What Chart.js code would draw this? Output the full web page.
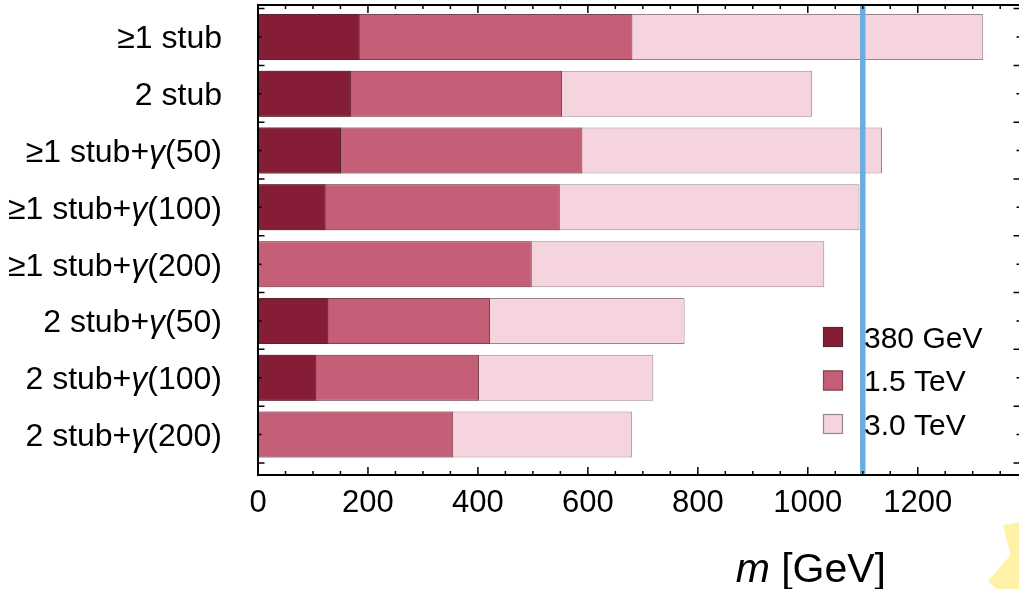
<!DOCTYPE html>
<html>
<head>
<meta charset="utf-8">
<script src="https://cdn.jsdelivr.net/npm/chart.js@4.4.1/dist/chart.umd.min.js"></script>
<style>
  html, body { margin: 0; padding: 0; background: #fff; overflow: hidden; }
  #wrap { width: 1030px; height: 589px; }
</style>
</head>
<body>
<div id="wrap"><canvas id="c" width="1030" height="589"></canvas></div>
<script>
// Selection channels (top to bottom)
const categories = [
  '≥1 stub',
  '2 stub',
  '≥1 stub+γ(50)',
  '≥1 stub+γ(100)',
  '≥1 stub+γ(200)',
  '2 stub+γ(50)',
  '2 stub+γ(100)',
  '2 stub+γ(200)'
];

// Mass reach [GeV] per collider energy stage
const reach380GeV = [185, 169, 151, 123, null, 128, 106, null];
const reach1500GeV = [681, 553, 590, 549, 498, 422, 402, 355];
const reach3000GeV = [1319, 1008, 1135, 1094, 1030, 776, 719, 680];

const seriesLabels = ['380 GeV', '1.5 TeV', '3.0 TeV'];
const xTickValues = [0, 200, 400, 600, 800, 1000, 1200];
const referenceMass = 1100;

const FONT = '"Liberation Sans", Arial, Helvetica, sans-serif';
const fills = ['#851d36', '#c45f77', '#f5d4de'];
const edges = ['#5b2431', '#7a4653', '#9a868c'];

const toPoints = arr => arr.map((v, i) => ({ x: v, y: i }));

// Draw a string whose "γ" characters are set in italics
function richSegments(text) {
  const segs = [];
  let buf = '';
  for (const ch of text) {
    if (ch === 'γ') {
      if (buf) segs.push({ t: buf, it: false });
      segs.push({ t: ch, it: true });
      buf = '';
    } else buf += ch;
  }
  if (buf) segs.push({ t: buf, it: false });
  return segs;
}
function drawSegments(ctx, segs, x, y, size, align) {
  const widths = segs.map(s => {
    ctx.font = (s.it ? 'italic ' : '') + size + 'px ' + FONT;
    return ctx.measureText(s.t).width;
  });
  const total = widths.reduce((a, b) => a + b, 0);
  let cx = align === 'right' ? x - total : x;
  segs.forEach((s, k) => {
    ctx.font = (s.it ? 'italic ' : '') + size + 'px ' + FONT;
    ctx.textAlign = 'left';
    ctx.textBaseline = 'alphabetic';
    ctx.fillText(s.t, cx, y);
    cx += widths[k];
  });
}

const framePlugin = {
  id: 'frame',
  afterDatasetsDraw(chart) {
    const { ctx, chartArea: a, scales } = chart;
    const xs = scales.x, ys = scales.y;
    ctx.save();

    // reference mass line
    const xr = xs.getPixelForValue(referenceMass);
    ctx.strokeStyle = '#6aaee0';
    ctx.lineWidth = 5.5;
    ctx.beginPath();
    ctx.moveTo(xr, a.top);
    ctx.lineTo(xr, a.bottom);
    ctx.stroke();

    // frame
    ctx.strokeStyle = '#000';
    ctx.lineWidth = 2;
    ctx.strokeRect(a.left, a.top, a.right - a.left, a.bottom - a.top);

    // inward ticks, top and bottom
    ctx.lineWidth = 1.5;
    ctx.beginPath();
    for (let v = 0; v <= xs.max; v += 50) {
      const px = xs.getPixelForValue(v);
      const len = v % 200 === 0 ? 8 : 4;
      ctx.moveTo(px, a.bottom);
      ctx.lineTo(px, a.bottom - len);
      ctx.moveTo(px, a.top);
      ctx.lineTo(px, a.top + len);
    }
    // inward ticks, left and right
    for (let i = 0; i < categories.length; i++) {
      const pc = ys.getPixelForValue(i);
      ctx.moveTo(a.left, pc); ctx.lineTo(a.left + 3.5, pc);
      ctx.moveTo(a.right, pc); ctx.lineTo(a.right - 3.5, pc);
    }
    for (let i = -0.5; i <= categories.length - 0.5; i += 1) {
      const pb = ys.getPixelForValue(i);
      if (pb < a.top + 1 || pb > a.bottom - 1) continue;
      ctx.moveTo(a.left, pb); ctx.lineTo(a.left + 6.5, pb);
      ctx.moveTo(a.right, pb); ctx.lineTo(a.right - 6.5, pb);
    }
    ctx.stroke();

    // category labels
    ctx.fillStyle = '#000';
    categories.forEach((c, i) => {
      const py = ys.getPixelForValue(i);
      drawSegments(ctx, richSegments(c), 222, py + 11.5, 32, 'right');
    });

    // axis title
    drawSegments(ctx, [{ t: 'm', it: true }, { t: ' [GeV]', it: false }], 886, 582, 41, 'right');

    // legend
    chart.data.datasets.forEach((ds, i) => {
      const sy = 327 + i * 43.5;
      ctx.fillStyle = ds.backgroundColor;
      ctx.fillRect(823, sy, 20, 20);
      ctx.strokeStyle = ds.borderColor;
      ctx.lineWidth = 1.2;
      ctx.strokeRect(823.5, sy + 0.5, 19, 19);
      ctx.fillStyle = '#000';
      ctx.font = '30px ' + FONT;
      ctx.textAlign = 'left';
      ctx.textBaseline = 'alphabetic';
      ctx.fillText(ds.label, 864, sy + 20.5);
    });

    // decorative corner badge
    const W = 1019, H = chart.height;
    ctx.fillStyle = '#fff1a6';
    ctx.beginPath();
    ctx.moveTo(W - 16, H - 64);
    ctx.lineTo(W + 11, H - 68);
    ctx.lineTo(W + 11, H);
    ctx.lineTo(W - 22, H);
    ctx.lineTo(W - 31, H - 8);
    ctx.lineTo(W - 8.5, H - 34);
    ctx.closePath();
    ctx.fill();

    ctx.restore();
  }
};

new Chart(document.getElementById('c'), {
  type: 'bar',
  data: {
    datasets: [
      { label: seriesLabels[0], data: toPoints(reach380GeV), backgroundColor: fills[0], borderColor: edges[0] },
      { label: seriesLabels[1], data: toPoints(reach1500GeV), backgroundColor: fills[1], borderColor: edges[1] },
      { label: seriesLabels[2], data: toPoints(reach3000GeV), backgroundColor: fills[2], borderColor: edges[2] }
    ]
  },
  options: {
    indexAxis: 'y',
    responsive: false,
    animation: false,
    devicePixelRatio: 1,
    layout: { padding: { left: 0, right: 10, top: 5, bottom: 0 } },
    datasets: {
      bar: {
        grouped: false,
        categoryPercentage: 1,
        barPercentage: 0.81,
        borderWidth: 1,
        borderSkipped: false
      }
    },
    plugins: {
      legend: { display: false },
      tooltip: { enabled: false }
    },
    scales: {
      x: {
        type: 'linear',
        min: 0,
        max: 1386,
        offset: false,
        grid: { display: false },
        border: { display: false },
        afterBuildTicks: s => { s.ticks = xTickValues.map(v => ({ value: v })); },
        afterFit: s => { s.height = 114; },
        ticks: {
          color: '#000',
          padding: 2,
          font: { family: FONT, size: 31 },
          callback: v => String(v)
        }
      },
      y: {
        type: 'linear',
        reverse: true,
        offset: false,
        min: -0.563,
        max: 7.712,
        grid: { display: false, offset: false },
        border: { display: false },
        ticks: { display: false },
        afterBuildTicks: s => { s.ticks = categories.map((c, i) => ({ value: i })); },
        afterFit: s => { s.width = 258; }
      }
    }
  },
  plugins: [framePlugin]
});
</script>
</body>
</html>
